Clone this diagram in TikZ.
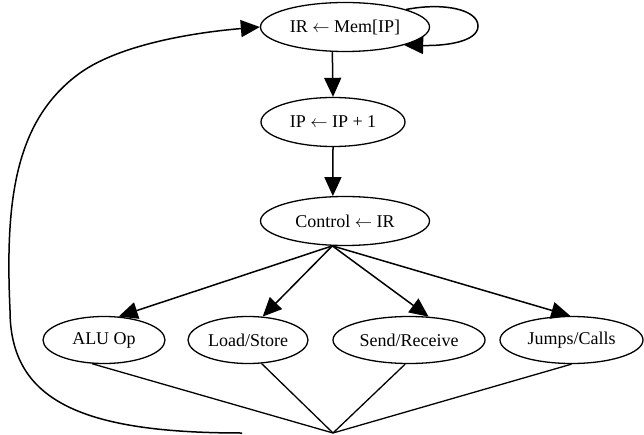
\documentclass[tikz,border=0pt]{standalone}
\usepackage{fontspec}
\setmainfont{Liberation Serif}
\usetikzlibrary{shapes.geometric,arrows.meta}
\begin{document}
\begin{tikzpicture}[x=1pt,y=-1pt,
  state/.style={ellipse,draw,line width=1.3pt,inner sep=0pt,minimum height=49pt,
                font=\fontsize{18}{20}\selectfont},
  op/.style={state,minimum height=47pt},
  flow/.style={line width=1.5pt,-{Triangle[length=19pt,width=17pt]}},
  link/.style={line width=1.3pt}]
\useasboundingbox (0,0) rectangle (644,435);

% fetch / decode chain
\node[state,minimum width=169pt] (ir)   at (345,27)  {IR $\leftarrow$ Mem[IP]};
\node[state,minimum width=144pt] (ip)   at (333,122) {IP $\leftarrow$ IP + 1};
\node[state,minimum width=169pt] (ctrl) at (345,221) {Control $\leftarrow$ IR};

% execution units
\node[op,minimum width=122pt] (alu)  at (104,340)   {ALU Op};
\node[op,minimum width=120pt] (ls)   at (248,340)   {Load/Store};
\node[op,minimum width=152pt] (sr)   at (409,340)   {Send/Receive};
\node[op,minimum width=143pt] (jmp)  at (571.5,340) {Jumps/Calls};

% join point and return path start
\coordinate (join) at (333,433);
\coordinate (back) at (242,433);

\draw[flow] (ir.243.7) -- (ip.north);
\draw[flow] (ip.south) -- (ctrl.116.3);

\draw[flow] (ctrl.243.7) -- (alu.58.5);
\draw[flow] (ctrl.243.7) -- (ls.58.5);
\draw[flow] (ctrl.243.7) -- (sr.50.1);
\draw[flow] (ctrl.243.7) -- (jmp.93.7);

\draw[link] (alu.-117.5) -- (join);
\draw[link] (ls.-60.5)   -- (join);
\draw[link] (sr.-99.8)   -- (join);
\draw[link] (jmp.-90)    -- (join);

% self loop on the fetch node
\draw[flow] (ir.16) .. controls (445,2) and (478,10) .. (478,26)
                    .. controls (478,42) and (445,46) .. (ir.-17);

% return path to the fetch node
\draw[flow] (back) .. controls (80,433) and (10,400) .. (10,310)
                   .. controls (5,200) and (15,120) .. (80,73)
                   .. controls (122,43) and (200,32) .. (ir.west);
\end{tikzpicture}
\end{document}
